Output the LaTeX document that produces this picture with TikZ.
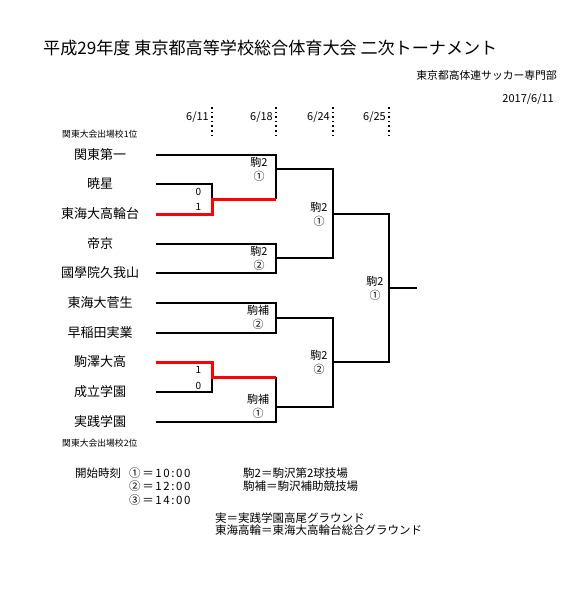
\documentclass[tikz,border=0pt]{standalone}
\usepackage{fontspec}
\setmainfont{Noto Sans CJK JP}
\newfontfamily\widetime[LetterSpace=14]{Noto Sans CJK JP}
\usetikzlibrary{positioning}

\begin{document}
\begin{tikzpicture}[x=1pt, y=-1pt]
    \tikzstyle{team} = [inner sep=0pt, font=\fontsize{13}{15}\selectfont]
    \tikzstyle{venue} = [inner sep=0pt, align=center, font=\fontsize{11}{14}\selectfont]
    \tikzstyle{score} = [inner sep=0pt, font=\fontsize{10}{12}\selectfont]
    \tikzstyle{seed} = [inner sep=0pt, anchor=west, font=\fontsize{8.8}{10}\selectfont]
    \tikzstyle{note} = [inner sep=0pt, anchor=west, font=\fontsize{11.5}{13}\selectfont]
    \tikzstyle{clock} = [note, font=\widetime\fontsize{11.5}{13}\selectfont]
    \tikzstyle{day} = [inner sep=0pt, anchor=east, font=\fontsize{11}{13}\selectfont]
    \tikzstyle{line} = [line width=2pt, draw=black]
    \tikzstyle{win} = [line width=3pt, draw=red]
    \tikzstyle{guide} = [line width=1.6pt, dash pattern=on 1.6pt off 3pt]

    \useasboundingbox (0,0) rectangle (585,608);

    % header
    \node [inner sep=0pt, anchor=west, font=\fontsize{17.1}{19}\selectfont] (title) at (43,48) {平成29年度 東京都高等学校総合体育大会 二次トーナメント};
    \node [inner sep=0pt, anchor=east, font=\fontsize{10.8}{13}\selectfont] (org) at (557,75) {東京都高体連サッカー専門部};
    \node [inner sep=0pt, anchor=east, font=\fontsize{11}{13}\selectfont] (issued) at (554,99) {2017/6/11};

    % match days
    \node [day] (d1) at (209,117) {6/11};
    \node [day] (d2) at (273,117) {6/18};
    \node [day] (d3) at (330,117) {6/24};
    \node [day] (d4) at (386,117) {6/25};
    \coordinate (g1a) at (212,107); \coordinate (g1b) at (212,139);
    \coordinate (g2a) at (276,107); \coordinate (g2b) at (276,139);
    \coordinate (g3a) at (333,107); \coordinate (g3b) at (333,139);
    \coordinate (g4a) at (389,107); \coordinate (g4b) at (389,139);
    \draw [guide] (g1a) -- (g1b);
    \draw [guide] (g2a) -- (g2b);
    \draw [guide] (g3a) -- (g3b);
    \draw [guide] (g4a) -- (g4b);

    % teams
    \node [seed] (seed1) at (62,134) {関東大会出場校1位};
    \node [team] (t1) at (100,155) {関東第一};
    \node [team] (t2) at (100,184) {暁星};
    \node [team] (t3) at (100,214) {東海大高輪台};
    \node [team] (t4) at (100,244) {帝京};
    \node [team] (t5) at (100,273) {國學院久我山};
    \node [team] (t6) at (100,303) {東海大菅生};
    \node [team] (t7) at (100,333) {早稲田実業};
    \node [team] (t8) at (100,362) {駒澤大高};
    \node [team] (t9) at (100,392) {成立学園};
    \node [team] (t10) at (100,422) {実践学園};
    \node [seed] (seed2) at (62,443) {関東大会出場校2位};

    % bracket points
    \coordinate (a1) at (156,155);  \coordinate (a2) at (156,184);
    \coordinate (a3) at (156,214);  \coordinate (a4) at (156,244);
    \coordinate (a5) at (156,273);  \coordinate (a6) at (156,303);
    \coordinate (a7) at (156,333);  \coordinate (a8) at (156,362);
    \coordinate (a9) at (156,392);  \coordinate (a10) at (156,422);
    \coordinate (q1) at (212,199);  \coordinate (q2) at (212,377);
    \coordinate (p1) at (276,199);  \coordinate (p2) at (276,273);
    \coordinate (p3) at (276,333);  \coordinate (p4) at (276,377);
    \coordinate (k1) at (276,169);  \coordinate (k2) at (276,258);
    \coordinate (k3) at (276,318);  \coordinate (k4) at (276,407);
    \coordinate (u1) at (333,258);  \coordinate (u2) at (333,407);
    \coordinate (v1) at (333,214);  \coordinate (v2) at (333,362);
    \coordinate (w1) at (389,362);  \coordinate (w0) at (389,288);
    \coordinate (champ) at (417,288);

    % first round
    \draw [line] (a2) -| (q1);
    \draw [line] (a9) -| (q2);
    % second round
    \draw [line] (a1) -| (p1);
    \draw [line] (a4) -| (p2) -- (a5);
    \draw [line] (a6) -| (p3) -- (a7);
    \draw [line] (a10) -| (p4);
    % semi-finals and final
    \draw [line] (k1) -| (u1) -- (k2);
    \draw [line] (k3) -| (u2) -- (k4);
    \draw [line] (v1) -| (w1) -- (v2);
    \draw [line] (w0) -- (champ);
    % winners of the first round
    \draw [win] (a3) -| (q1) -- (p1);
    \draw [win] (a8) -| (q2) -- (p4);

    % scores
    \node [score] (s1) at (198.5,192) {0};
    \node [score] (s2) at (198.5,207) {1};
    \node [score] (s3) at (198.5,370) {1};
    \node [score] (s4) at (198.5,386) {0};

    % venues
    \node [venue] (m1) at (259,169) {駒2\\①};
    \node [venue] (m2) at (259,258.5) {駒2\\②};
    \node [venue] (m3) at (258,317.5) {駒補\\②};
    \node [venue] (m4) at (258,406) {駒補\\①};
    \node [venue] (m5) at (319,214.5) {駒2\\①};
    \node [venue] (m6) at (319,362) {駒2\\②};
    \node [venue] (m7) at (375,288.5) {駒2\\①};

    % notes
    \node [note] (n1) at (75,473) {開始時刻};
    \node [clock] (n2) at (129,473) {①＝10:00};
    \node [clock] (n3) at (129,486.5) {②＝12:00};
    \node [clock] (n4) at (129,500) {③＝14:00};
    \node [note] (n5) at (243,473) {駒2＝駒沢第2球技場};
    \node [note] (n6) at (243,486.5) {駒補＝駒沢補助競技場};
    \node [note] (n7) at (215,518) {実＝実践学園高尾グラウンド};
    \node [note] (n8) at (215,530) {東海高輪＝東海大高輪台総合グラウンド};
\end{tikzpicture}
\end{document}
